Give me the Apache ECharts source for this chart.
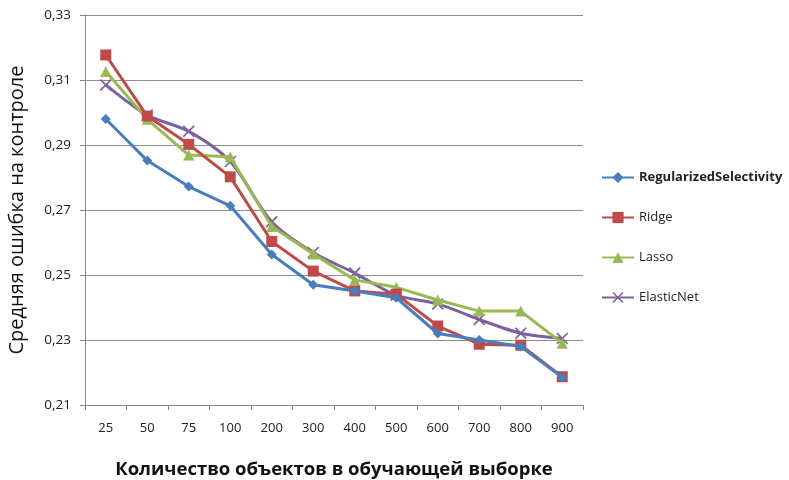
<!DOCTYPE html>
<html><head><meta charset="utf-8">
<script src="https://cdn.jsdelivr.net/npm/echarts@6/dist/echarts.min.js"></script>
<style>html,body{margin:0;padding:0;background:#fff}#c{width:789px;height:480px}</style>
</head><body><div id="c"></div>
<script>
const categories = ['25','50','75','100','200','300','400','500','600','700','800','900'];
const regSel = [0.298, 0.2852, 0.2772, 0.2713, 0.2563, 0.247, 0.2451, 0.243, 0.232, 0.23, 0.228, 0.2185];
const ridge = [0.3177, 0.2989, 0.2902, 0.2802, 0.2603, 0.2512, 0.2451, 0.2441, 0.2343, 0.2287, 0.2284, 0.2187];
const lasso = [0.3126, 0.2979, 0.2869, 0.2864, 0.2649, 0.2565, 0.2485, 0.2462, 0.2423, 0.2389, 0.2389, 0.229];
const elastic = [0.3085, 0.2992, 0.2942, 0.2849, 0.2664, 0.2569, 0.2506, 0.2438, 0.2411, 0.2363, 0.2321, 0.2305];
const names = ['RegularizedSelectivity','Ridge','Lasso','ElasticNet'];
const colors = ['#4a7ebb','#be4b48','#98b954','#7d60a0'];
const yTicks = {min: 0.21, max: 0.33, step: 0.02};

const font = '"Open Sans", "Noto Sans", sans-serif';
const crossPath = 'path://M1,0 L5,4 L9,0 L10,1 L6,5 L10,9 L9,10 L5,6 L1,10 L0,9 L4,5 L0,1 Z';
const symbols = ['diamond','rect','triangle',crossPath];
const sizes = [10,11,11,12];
const datas = [regSel, ridge, lasso, elastic];

const chart = echarts.init(document.getElementById('c'));
chart.setOption({
  animation: false,
  textStyle: {fontFamily: font},
  grid: {left: 85, right: 206, top: 15, bottom: 75, outerBoundsMode: 'none', containLabel: false},
  legend: {
    orient: 'vertical', left: 596, top: 166, itemGap: 27,
    itemWidth: 32, itemHeight: 14,
    data: names,
    textStyle: {fontFamily: font, fontSize: 13, color: '#222',
      rich: {b: {fontWeight: 'bold', fontFamily: font, fontSize: 13, color: '#222'}}},
    formatter: n => n === 'RegularizedSelectivity' ? '{b|' + n + '}' : n
  },
  xAxis: {
    type: 'category', data: categories, boundaryGap: true,
    name: 'Количество объектов в обучающей выборке', nameLocation: 'middle', nameGap: 55,
    nameTextStyle: {fontFamily: font, fontSize: 18.5, fontWeight: 'bold', color: '#111'},
    axisLine: {lineStyle: {color: '#868686', width: 1}},
    axisTick: {show: true, length: 5, alignWithLabel: false, lineStyle: {color: '#868686'}},
    axisLabel: {fontSize: 13, color: '#222', margin: 17, fontFamily: font}
  },
  yAxis: {
    type: 'value', min: yTicks.min, max: yTicks.max, interval: yTicks.step,
    name: 'Средняя ошибка на контроле', nameLocation: 'middle', nameGap: 58,
    nameTextStyle: {fontFamily: font, fontSize: 20, color: '#111'},
    axisLine: {show: true, lineStyle: {color: '#868686', width: 1}},
    axisTick: {show: true, length: 5, lineStyle: {color: '#868686'}},
    splitLine: {lineStyle: {color: '#8c8c8c', width: 1}},
    axisLabel: {fontSize: 13.5, color: '#222', margin: 14, fontFamily: font,
      formatter: v => v.toFixed(2).replace('.', ',')}
  },
  series: names.map((n, i) => ({
    name: n, type: 'line', data: datas[i],
    smooth: i === 3 ? 0.3 : false,
    symbol: symbols[i], symbolSize: sizes[i],
    lineStyle: {color: colors[i], width: 3},
    itemStyle: {color: colors[i]},
    z: 10 - i
  }))
});
</script></body></html>
